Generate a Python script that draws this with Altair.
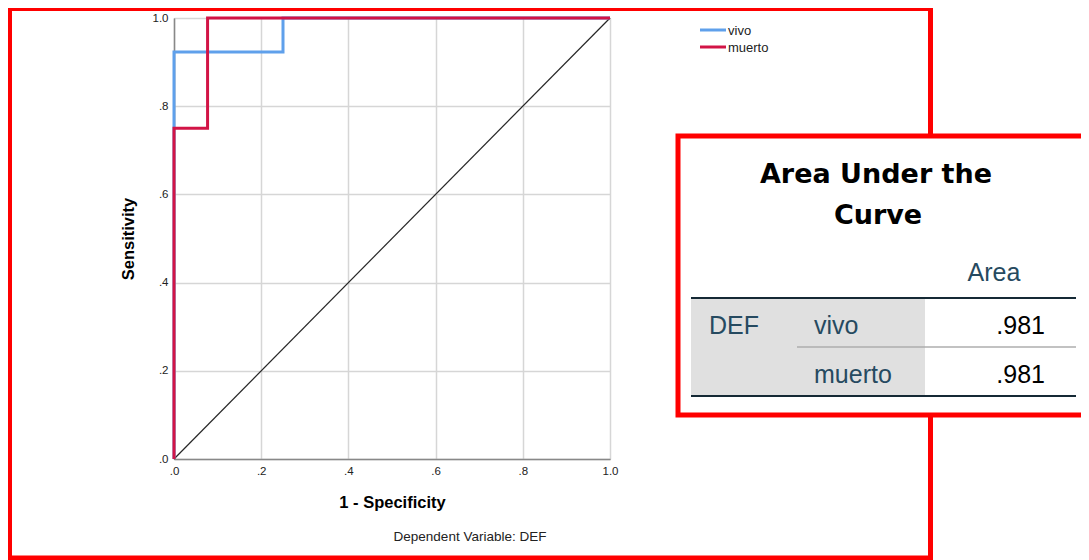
import altair as alt
import pandas as pd

# ---------------- data ----------------
series = ["vivo", "muerto"]
series_colors = ["#5fa0eb", "#d21446"]
vivo_fpr = [0.0, 0.0, 0.25, 0.25, 1.0]
vivo_tpr = [0.0, 0.923, 0.923, 1.0, 1.0]
muerto_fpr = [0.0, 0.0, 0.077, 0.077, 1.0]
muerto_tpr = [0.0, 0.75, 0.75, 1.0, 1.0]
diag_x = [0.0, 1.0]
diag_y = [0.0, 1.0]
auc_values = [0.981, 0.981]
tick_values = [0.0, 0.2, 0.4, 0.6, 0.8, 1.0]
dep_var = "DEF"
x_title = "1 - Specificity"
y_title = "Sensitivity"
table_title = ["Area Under the", "Curve"]
table_header = "Area"

FONT = "Liberation Sans"

df_vivo = pd.DataFrame({"fpr": vivo_fpr, "tpr": vivo_tpr, "i": range(len(vivo_fpr))})
df_muerto = pd.DataFrame({"fpr": muerto_fpr, "tpr": muerto_tpr, "i": range(len(muerto_fpr))})
df_diag = pd.DataFrame({"fpr": diag_x, "tpr": diag_y, "i": range(len(diag_x))})
df_tab = pd.DataFrame({"series": series, "auc": auc_values})
one = pd.DataFrame({"a": [1]})

label_expr = "datum.value >= 1 ? '1.0' : '.' + format(datum.value * 10, '.0f')"

X = alt.X("fpr:Q",
          scale=alt.Scale(domain=[0, 1], nice=False, zero=True),
          axis=alt.Axis(values=tick_values, labelExpr=label_expr, title=x_title,
                        ticks=False, tickSize=0, labelPadding=6, titlePadding=18,
                        labelFlush=False, labelOverlap=False, grid=True))
Y = alt.Y("tpr:Q",
          scale=alt.Scale(domain=[0, 1], nice=False, zero=True),
          axis=alt.Axis(values=tick_values, labelExpr=label_expr, title=y_title,
                        ticks=False, tickSize=0, labelPadding=6, titlePadding=16,
                        labelFlush=False, labelOverlap=False, grid=True))

# outer red frame
outer = alt.Chart(one).mark_rect(fillOpacity=0, stroke="#ff0000", strokeWidth=5).encode(
    x=alt.value(-164.5), x2=alt.value(756.5), y=alt.value(-9.5), y2=alt.value(540))

diag = alt.Chart(df_diag).mark_line(color="#262626", strokeWidth=1.2).encode(
    x=X, y=Y, order="i:Q")
line_v = alt.Chart(df_vivo).mark_line(color=series_colors[0], strokeWidth=3).encode(
    x=X, y=Y, order="i:Q")
line_m = alt.Chart(df_muerto).mark_line(color=series_colors[1], strokeWidth=3).encode(
    x=X, y=Y, order="i:Q")

# manual legend
legend_layers = []
for k, s in enumerate(series):
    ly = 12 + 17 * k
    legend_layers.append(
        alt.Chart(df_tab).transform_filter(alt.datum.series == s)
        .mark_rule(color=series_colors[k], strokeWidth=3)
        .encode(x=alt.value(526), x2=alt.value(552), y=alt.value(ly)))
    legend_layers.append(
        alt.Chart(df_tab).transform_filter(alt.datum.series == s)
        .mark_text(align="left", baseline="middle", font=FONT, fontSize=13, color="#222222")
        .encode(x=alt.value(554), y=alt.value(ly + 1), text="series:N"))

footnote = alt.Chart(one).mark_text(font=FONT, fontSize=13.5, color="#222222",
                                    align="center", baseline="middle").encode(
    x=alt.value(296), y=alt.value(519), text=alt.value("Dependent Variable: " + dep_var))

# table box
box = alt.Chart(one).mark_rect(fill="#ffffff", stroke="#ff0000", strokeWidth=5).encode(
    x=alt.value(504), x2=alt.value(940), y=alt.value(118), y2=alt.value(397))
title1 = alt.Chart(one).mark_text(font="DejaVu Sans", fontWeight="bold", fontSize=27,
                                  color="#000000", align="center", baseline="alphabetic").encode(
    x=alt.value(702), y=alt.value(165), text=alt.value(table_title[0]))
title2 = alt.Chart(one).mark_text(font="DejaVu Sans", fontWeight="bold", fontSize=27,
                                  color="#000000", align="center", baseline="alphabetic").encode(
    x=alt.value(704), y=alt.value(206), text=alt.value(table_title[1]))
header = alt.Chart(one).mark_text(font=FONT, fontSize=25, color="#264a60",
                                  align="center", baseline="alphabetic").encode(
    x=alt.value(820), y=alt.value(263), text=alt.value(table_header))
gray_bg = alt.Chart(one).mark_rect(fill="#e0e0e0").encode(
    x=alt.value(517), x2=alt.value(751), y=alt.value(281), y2=alt.value(378))
hline_top = alt.Chart(one).mark_rule(color="#152935", strokeWidth=2).encode(
    x=alt.value(517), x2=alt.value(902), y=alt.value(280))
hline_mid = alt.Chart(one).mark_rule(color="#aeaeae", strokeWidth=1.5).encode(
    x=alt.value(623), x2=alt.value(902), y=alt.value(329))
hline_bot = alt.Chart(one).mark_rule(color="#152935", strokeWidth=2).encode(
    x=alt.value(517), x2=alt.value(902), y=alt.value(378))
def_label = alt.Chart(one).mark_text(font=FONT, fontSize=25, color="#264a60",
                                     align="left", baseline="alphabetic").encode(
    x=alt.value(535), y=alt.value(316), text=alt.value(dep_var))

table_layers = [box, title1, title2, header, gray_bg, hline_top, hline_mid, hline_bot, def_label]
row_y = [316, 365]
for k, s in enumerate(series):
    table_layers.append(
        alt.Chart(df_tab).transform_filter(alt.datum.series == s)
        .mark_text(font=FONT, fontSize=25, color="#264a60", align="left", baseline="alphabetic")
        .encode(x=alt.value(640), y=alt.value(row_y[k]), text="series:N"))
    table_layers.append(
        alt.Chart(df_tab).transform_filter(alt.datum.series == s)
        .transform_calculate(lbl="substring(format(datum.auc, '.3f'), 1)")
        .mark_text(font=FONT, fontSize=25, color="#000000", align="right", baseline="alphabetic")
        .encode(x=alt.value(871), y=alt.value(row_y[k]), text="lbl:N"))

chart = alt.layer(outer, diag, line_v, line_m, *legend_layers, footnote, *table_layers).properties(
    width=436, height=441,
    padding={"left": 166, "top": 10, "right": 471, "bottom": 101},
    autosize=alt.AutoSizeParams(type="none"),
    background="#ffffff",
).configure_view(stroke="#a0a0a0", strokeWidth=1).configure_axis(
    labelFont=FONT, labelFontSize=11.5, labelColor="#222222",
    titleFont=FONT, titleFontSize=16.5, titleFontWeight="bold", titleColor="#000000",
    domainColor="#888888", domainWidth=1.5,
    gridColor="#d6d6d6", gridWidth=1.5,
)

chart.save("out.html", embed_options={"renderer": "svg", "actions": False})
